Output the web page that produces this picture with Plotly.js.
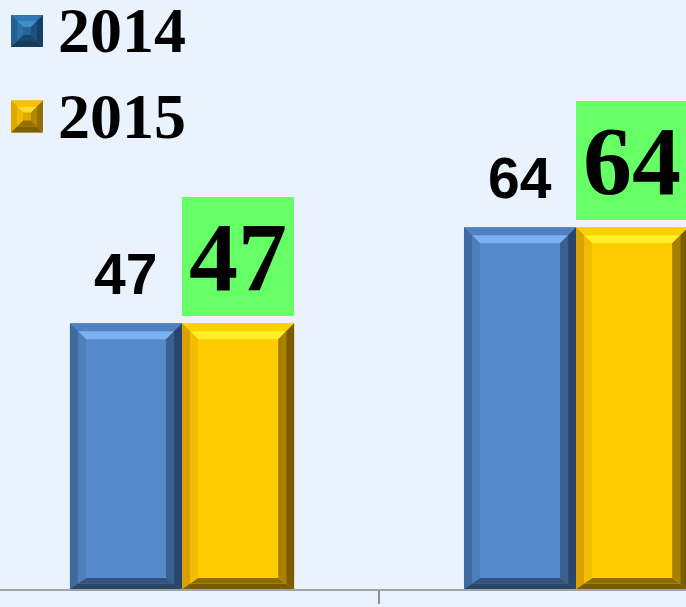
<!DOCTYPE html>
<html>
<head>
<meta charset="utf-8">
<script src="https://cdn.plot.ly/plotly-3.0.1.min.js"></script>
<style>
  html, body { margin: 0; padding: 0; background: #EAF3FD; }
  #chart { width: 686px; height: 607px; }
</style>
</head>
<body>
<div id="chart"></div>
<script>
// ---- data ----
const categories = ["Category 1", "Category 2"];
const seriesNames = ["2014", "2015"];
const values2014 = [47, 64];
const values2015 = [47, 64];
const labels2014 = ["47", "64"];
const labels2015 = ["47", "64"];

// ---- styling ----
const W = 686, H = 607;
const marginB = 18;
const plotH = H - marginB;
const xRange = [-0.462, 1.279];
const yRange = [0, 104.2];
const bargap = 0.431;
const bg = "#EAF3FD";

const styles = [
  { face: "#5589CB",
    bands: { top: ["#5080C0", "#7BB1EF"], left: ["#3F6A9F", "#4F7EBC"], right: ["#2A456B", "#39608F"], bottom: ["#2B4566", "#34547D"] },
    key: { face: "#23659B", bands: { top: ["#2F77B5", "#3F8ECC"], left: ["#245F93", "#2C70AA"], right: ["#173F63", "#1D5080"], bottom: ["#163A58", "#1B466B"] } } },
  { face: "#FFCC00",
    bands: { top: ["#FFD000", "#FFF02A"], left: ["#D9A000", "#F2BC00"], right: ["#7A5C00", "#A88000"], bottom: ["#7A5C00", "#8E6C00"] },
    key: { face: "#D9A900", bands: { top: ["#F5C400", "#FFDC30"], left: ["#DDA800", "#F0BC00"], right: ["#946F00", "#B08800"], bottom: ["#7E6000", "#937000"] } } }
];
const seriesValues = [values2014, values2015];

const xpx = W / (xRange[1] - xRange[0]);
const ypx = plotH / (yRange[1] - yRange[0]);
const xIdx = categories.map((c, i) => i);

const traces = seriesValues.map((vals, s) => ({
  type: "bar",
  name: seriesNames[s],
  x: xIdx,
  y: vals,
  hovertext: categories,
  marker: { color: styles[s].face, line: { width: 0 } },
  showlegend: false,
  hoverinfo: "none"
}));

// two-tone bevel: t = {top,left,right,bottom} thickness in axis units
function bevel(x0, x1, y0, y1, t, bands, xref, yref) {
  const P = (pts) => "M" + pts.map(p => p[0] + "," + p[1]).join(" L") + " Z";
  const R = (f) => [x0 + f * t.left, x1 - f * t.right, y0 + f * t.bottom, y1 - f * t.top];
  const out = [];
  const steps = [[0, 0.5], [0.5, 1]];
  steps.forEach((st, k) => {
    const a = R(st[0]), b = R(st[1]);
    const mk = (pts, col) => ({ type: "path", xref: xref, yref: yref, line: { width: 0 }, layer: "above", path: P(pts), fillcolor: col });
    out.push(mk([[a[0], a[3]], [a[1], a[3]], [b[1], b[3]], [b[0], b[3]]], bands.top[k]));
    out.push(mk([[a[0], a[2]], [a[1], a[2]], [b[1], b[2]], [b[0], b[2]]], bands.bottom[k]));
    out.push(mk([[a[0], a[2]], [a[0], a[3]], [b[0], b[3]], [b[0], b[2]]], bands.left[k]));
    out.push(mk([[a[1], a[2]], [a[1], a[3]], [b[1], b[3]], [b[1], b[2]]], bands.right[k]));
  });
  return out;
}

const shapes = [];
const barW = (1 - bargap) / seriesValues.length;
const barBev = { top: 16 / ypx, bottom: 11 / ypx, left: 16 / xpx, right: 16 / xpx };
seriesValues.forEach((vals, s) => {
  vals.forEach((v, i) => {
    const x0 = i - (1 - bargap) / 2 + s * barW;
    shapes.push(...bevel(x0, x0 + barW, 0, v, barBev, styles[s].bands, "x", "y"));
  });
});

// legend keys (paper coords)
const legendY = [31, 116.5];
const keyX0 = 11, keySize = 32, keyBev = 12;
seriesNames.forEach((n, s) => {
  const k = styles[s].key;
  const px0 = keyX0 / W, px1 = (keyX0 + keySize) / W;
  const py1 = (plotH - (legendY[s] - keySize / 2)) / plotH;
  const py0 = (plotH - (legendY[s] + keySize / 2)) / plotH;
  shapes.push({ type: "rect", xref: "paper", yref: "paper", x0: px0, x1: px1, y0: py0, y1: py1,
    fillcolor: k.face, line: { width: 0 }, layer: "above" });
  const kb = { top: keyBev / plotH, bottom: keyBev / plotH, left: keyBev / W, right: keyBev / W };
  shapes.push(...bevel(px0, px1, py0, py1, kb, k.bands, "paper", "paper"));
});

const annotations = [];
// 2014 labels: plain bold sans above blue bars
values2014.forEach((v, i) => {
  annotations.push({
    x: i - (1 - bargap) / 2 + barW / 2, y: v, xref: "x", yref: "y",
    text: labels2014[i], showarrow: false, xanchor: "center", yanchor: "middle", yshift: 49,
    font: { family: "Liberation Sans, Arial, sans-serif", size: 57, color: "#000000", weight: "bold" }
  });
});
// 2015 labels: big serif in green box above yellow bars
values2015.forEach((v, i) => {
  annotations.push({
    x: i - (1 - bargap) / 2 + barW * 1.5, y: v, xref: "x", yref: "y",
    text: "<b>" + labels2015[i] + "</b>", showarrow: false, xanchor: "center", yanchor: "middle", yshift: 66.5,
    width: 112, height: 119, bgcolor: "#66FF66", borderwidth: 0, borderpad: 0,
    font: { family: "Liberation Serif, Times New Roman, serif", size: 98, color: "#000000" }
  });
});
// legend text
seriesNames.forEach((n, s) => {
  annotations.push({
    x: 58 / W, y: (plotH - legendY[s] + 1) / plotH, xref: "paper", yref: "paper",
    text: "<b>" + n + "</b>", showarrow: false, xanchor: "left", yanchor: "middle",
    height: 54, borderwidth: 0, borderpad: 0,
    font: { family: "Liberation Serif, Times New Roman, serif", size: 64, color: "#000000" }
  });
});

const layout = {
  width: W, height: H,
  margin: { l: 0, r: 0, t: 0, b: marginB, pad: 0 },
  paper_bgcolor: bg, plot_bgcolor: bg,
  barmode: "group", bargap: bargap, bargroupgap: 0,
  showlegend: false,
  xaxis: {
    type: "linear", range: xRange, showgrid: false, zeroline: false,
    showline: true, linecolor: "#A3A3A3", linewidth: 2,
    ticks: "outside", ticklen: 13, tickwidth: 2, tickcolor: "#8E8E8E",
    tickvals: categories.slice(1).map((c, i) => i + 0.5), showticklabels: false, fixedrange: true
  },
  yaxis: { range: yRange, visible: false, showgrid: false, zeroline: false, fixedrange: true },
  shapes: shapes,
  annotations: annotations
};

Plotly.newPlot("chart", traces, layout, { displayModeBar: false, staticPlot: true });
</script>
</body>
</html>
